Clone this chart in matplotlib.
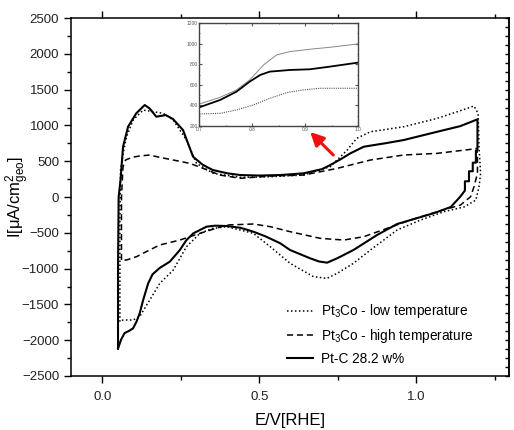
import matplotlib
matplotlib.use("Agg")
import matplotlib.pyplot as plt
from matplotlib.ticker import MultipleLocator, NullFormatter

plt.rcParams["font.family"] = ["Liberation Sans", "DejaVu Sans"]
plt.rcParams["mathtext.fontset"] = "custom"
plt.rcParams["mathtext.rm"] = "Liberation Sans"
plt.rcParams["mathtext.it"] = "Liberation Sans"

# --- Pt-C 28.2 w% (solid) ---
ptc_v = [0.050, 0.050, 0.052, 0.058, 0.066, 0.082, 0.108, 0.135, 0.150, 0.172, 0.202,
         0.225, 0.257, 0.289, 0.320, 0.352, 0.400, 0.440, 0.500, 0.567, 0.641, 0.700,
         0.726, 0.760, 0.790, 0.833, 0.900, 0.960, 1.067, 1.140, 1.195, 1.195, 1.190,
         1.190, 1.180, 1.180, 1.168, 1.168, 1.155, 1.155, 1.140, 1.110, 1.060, 1.014,
         0.939, 0.875, 0.800, 0.748, 0.716, 0.690, 0.662, 0.598, 0.567, 0.520, 0.481,
         0.440, 0.396, 0.360, 0.332, 0.290, 0.268, 0.247, 0.215, 0.183, 0.160, 0.146,
         0.130, 0.119, 0.109, 0.098, 0.085, 0.071, 0.060, 0.050]
ptc_i = [-2115, -1000, 0, 237, 703, 982, 1169, 1285, 1240, 1122, 1145,
         1090, 936, 563, 450, 377, 330, 307, 300, 307, 331, 390,
         447, 530, 610, 703, 750, 796, 912, 990, 1085, 650, 650,
         480, 480, 360, 360, 220, 220, 90, 4, -139, -220, -280,
         -377, -531, -740, -856, -917, -900, -856, -740, -647, -550, -484,
         -430, -405, -400, -414, -507, -601, -740, -903, -990, -1080, -1206,
         -1440, -1625, -1740, -1834, -1870, -1900, -1990, -2115]

# --- Pt3Co low temperature (dotted) ---
low_v = [0.056, 0.056, 0.058, 0.066, 0.077, 0.098, 0.130, 0.162, 0.194, 0.226, 0.268,
         0.300, 0.353, 0.440, 0.535, 0.641, 0.726, 0.780, 0.810, 0.854, 0.960, 1.067,
         1.131, 1.184, 1.197, 1.200, 1.205, 1.200, 1.190, 1.152, 1.088, 1.014, 0.939,
         0.854, 0.800, 0.748, 0.716, 0.673, 0.598, 0.535, 0.481, 0.396, 0.350, 0.311,
         0.268, 0.226, 0.183, 0.151, 0.119, 0.098, 0.066, 0.056]
low_i = [-1741, -300, 377, 600, 842, 1075, 1215, 1192, 1169, 1075, 796,
         470, 331, 275, 284, 307, 424, 656, 819, 912, 982, 1099,
         1192, 1271, 1169, 700, 331, 144, -42, -139, -205, -321, -461,
         -740, -926, -1066, -1136, -1113, -926, -694, -507, -414, -440, -507,
         -694, -1020, -1206, -1439, -1671, -1718, -1718, -1741]

# --- Pt3Co high temperature (dashed) ---
high_v = [0.061, 0.061, 0.066, 0.074, 0.095, 0.119, 0.151, 0.183, 0.226, 0.279, 0.321,
          0.375, 0.440, 0.535, 0.641, 0.748, 0.854, 0.960, 1.067, 1.173, 1.193, 1.195,
          1.195, 1.184, 1.173, 1.141, 1.067, 0.982, 0.907, 0.833, 0.769, 0.694, 0.598,
          0.535, 0.481, 0.396, 0.311, 0.247, 0.183, 0.140, 0.109, 0.077, 0.061]
high_i = [-880, 0, 424, 517, 555, 573, 587, 554, 517, 470, 400,
          307, 261, 293, 307, 400, 517, 587, 610, 666, 680, 563,
          331, 144, 4, -112, -205, -321, -438, -554, -601, -577, -484,
          -414, -377, -391, -507, -601, -670, -763, -833, -880, -880]

# --- inset (0.7 - 1.0 V) ---
ins_v = [0.700, 0.739, 0.770, 0.795, 0.821, 0.846, 0.871, 0.909, 0.947, 1.000]
ins_top = [414, 479, 551, 648, 794, 892, 924, 947, 966, 999]
ins_mid_v = [0.700, 0.739, 0.770, 0.795, 0.815, 0.833, 0.871, 0.909, 0.947, 1.000]
ins_mid = [382, 453, 534, 632, 697, 729, 745, 752, 778, 817]
ins_bot_v = [0.700, 0.739, 0.770, 0.802, 0.833, 0.865, 0.896, 0.928, 0.960, 1.000]
ins_bot = [317, 323, 356, 405, 469, 525, 551, 567, 567, 567]

fig = plt.figure(figsize=(5.14, 4.30), dpi=100)
ax = fig.add_axes([0.138, 0.1256, 0.852, 0.8324])

ax.plot(low_v, low_i, color="black", lw=1.1, ls=(0, (1, 1.6)),
        label="Pt$_3$Co - low temperature")
ax.plot(high_v, high_i, color="black", lw=1.1, ls=(0, (4, 2.5)),
        label="Pt$_3$Co - high temperature")
ax.plot(ptc_v, ptc_i, color="black", lw=1.5, label="Pt-C 28.2 w%")

ax.set_xlim(-0.1, 1.295)
ax.set_ylim(-2500, 2500)
ax.xaxis.set_major_locator(MultipleLocator(0.5))
ax.xaxis.set_minor_locator(MultipleLocator(0.25))
ax.yaxis.set_major_locator(MultipleLocator(500))
ax.yaxis.set_minor_locator(MultipleLocator(250))
ax.xaxis.set_major_formatter(plt.FuncFormatter(lambda v, p: f"{v:.1f}"))
ax.tick_params(which="both", direction="out", top=True, labelsize=9.5,
               labelcolor="#222222")
ax.tick_params(which="major", length=5, width=1)
ax.tick_params(which="minor", length=3, width=1)
ax.tick_params(axis="x", pad=6)
for s in ax.spines.values():
    s.set_linewidth(1.1)

# right spine: short inward ticks
sec = ax.secondary_yaxis("right")
sec.yaxis.set_major_locator(MultipleLocator(125))
sec.yaxis.set_major_formatter(NullFormatter())
sec.tick_params(direction="in", length=3, width=1)
sec.spines["right"].set_linewidth(1.1)

ax.set_xlabel("E/V[RHE]", fontsize=12)
ax.xaxis.set_label_coords(0.5, -0.103)
ax.set_ylabel(r"I[$\mu$A/cm$^{2}_{geo}$]", fontsize=12)
ax.yaxis.set_label_coords(-0.088, 0.5)

ax.legend(loc="upper left", bbox_to_anchor=(0.558, 0.297),
          bbox_transform=fig.transFigure, frameon=False, borderpad=0,
          borderaxespad=0, fontsize=9.8, handlelength=1.9, handletextpad=0.6,
          labelspacing=0.5)

ax.annotate("", xy=(0.656, 936), xytext=(0.742, 559),
            arrowprops=dict(arrowstyle="-|>,head_length=0.8,head_width=0.4",
                            color="#ee1111", lw=2.2))

# inset
axi = fig.add_axes([0.388, 0.707, 0.309, 0.239])
axi.plot(ins_v, ins_top, color="#888888", lw=0.7)
axi.plot(ins_mid_v, ins_mid, color="black", lw=1.3)
axi.plot(ins_bot_v, ins_bot, color="#555555", lw=0.8, ls=(0, (1, 1)))
axi.set_xlim(0.7, 1.0)
axi.set_ylim(200, 1200)
axi.xaxis.set_major_locator(MultipleLocator(0.1))
axi.xaxis.set_minor_locator(MultipleLocator(0.05))
axi.yaxis.set_major_locator(MultipleLocator(200))
axi.yaxis.set_minor_locator(MultipleLocator(100))
axi.tick_params(which="both", direction="in", top=True, right=True,
                labelsize=3.5, pad=1, colors="#555555")
axi.tick_params(which="major", length=2)
axi.tick_params(which="minor", length=1)
for s in axi.spines.values():
    s.set_linewidth(1.0)
    s.set_color("#444444")

fig.savefig("out.png", dpi=100)
